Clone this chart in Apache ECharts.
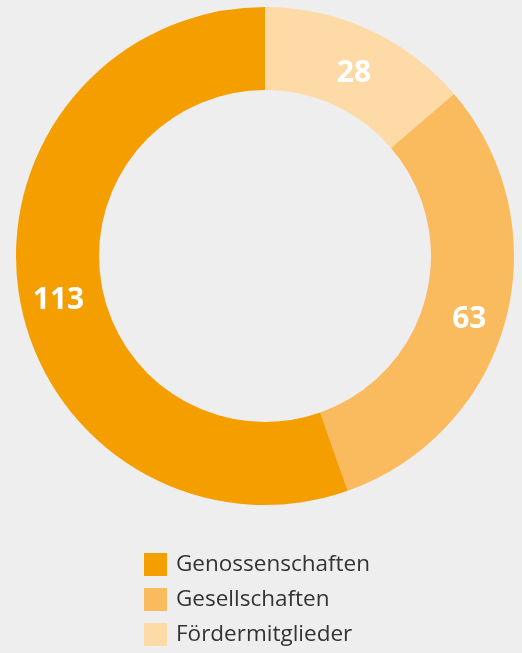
<!DOCTYPE html>
<html>
<head>
<meta charset="utf-8">
<script src="https://cdn.jsdelivr.net/npm/echarts@6/dist/echarts.min.js"></script>
<style>
html,body{margin:0;padding:0;background:#eeeeee;}
#main{width:522px;height:653px;}
</style>
</head>
<body>
<div id="main"></div>
<script>
//Daten (Reihenfolge im Uhrzeigersinn ab 12 Uhr)
var categories = ['Fördermitglieder', 'Gesellschaften', 'Genossenschaften'];
var values = [28, 63, 113];
var colors = ['#fedaa6', '#f9bb5e', '#f59e00'];
//Legende in anderer Reihenfolge
var legendOrder = ['Genossenschaften', 'Gesellschaften', 'Fördermitglieder'];

var chart = echarts.init(document.getElementById('main'));

var pieData = [];
for (var i = 0; i < categories.length; i++) {
    pieData.push({name: categories[i], value: values[i], itemStyle: {color: colors[i]}});
}

var option = {
    backgroundColor: '#eeeeee',
    animation: false,
    legend: {
        orient: 'vertical',
        left: 144,
        top: 553,
        padding: 0,
        itemWidth: 23,
        itemHeight: 23,
        itemGap: 12,
        icon: 'rect',
        data: legendOrder,
        textStyle: {
            fontFamily: 'Open Sans',
            fontSize: 22.5,
            color: '#333333',
            padding: [0, 0, 0, 4]
        }
    },
    series: [
        {
            type: 'pie',
            center: [265, 256],
            radius: [166, 249],
            startAngle: 90,
            clockwise: true,
            silent: true,
            itemStyle: {borderWidth: 0},
            label: {
                show: true,
                position: 'inside',
                formatter: '{c}',
                color: '#ffffff',
                fontFamily: 'Open Sans',
                fontWeight: 'bold',
                fontSize: 30,
                offset: [1, 9]
            },
            labelLine: {show: false},
            data: pieData
        }
    ]
};
chart.setOption(option);
</script>
</body>
</html>
